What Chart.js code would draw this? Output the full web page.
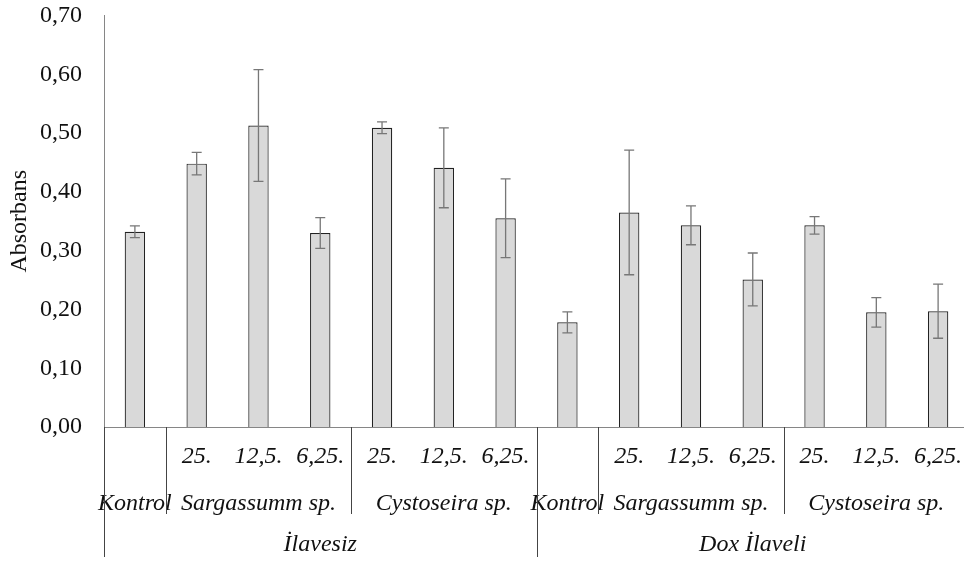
<!DOCTYPE html>
<html lang="tr">
<head>
<meta charset="utf-8">
<title>Absorbans</title>
<script src="https://cdn.jsdelivr.net/npm/chart.js@4/dist/chart.umd.min.js"></script>
<style>
    html, body { margin: 0; padding: 0; background: #ffffff; overflow: hidden; }
    #kutu { position: relative; width: 969px; height: 563px; }
</style>
</head>
<body>
<div id="kutu"><canvas id="grafik"></canvas></div>
<script>
// Veriler
const dozEtiketleri = ['', '25.', '12,5.', '6,25.', '25.', '12,5.', '6,25.',
                       '', '25.', '12,5.', '6,25.', '25.', '12,5.', '6,25.'];
const turAdlari = ['Kontrol', 'Sargassumm sp.', 'Cystoseira sp.', 'Kontrol', 'Sargassumm sp.', 'Cystoseira sp.'];
const turGenislik = [1, 3, 3, 1, 3, 3];
const grupAdlari = ['İlavesiz', 'Dox İlaveli'];
const grupGenislik = [7, 7];
const ortalama = [0.332, 0.448, 0.513, 0.330, 0.509, 0.441, 0.355,
                  0.178, 0.365, 0.343, 0.251, 0.343, 0.195, 0.197];
const hata = [0.010, 0.019, 0.095, 0.026, 0.010, 0.068, 0.067,
              0.018, 0.106, 0.033, 0.045, 0.015, 0.025, 0.046];
const yEtiketleri = [0, 0.1, 0.2, 0.3, 0.4, 0.5, 0.6, 0.7];

const yazi = "'Liberation Serif', 'Times New Roman', serif";

// Hata çubukları
const hataCubuklari = {
    id: 'hataCubuklari',
    afterDatasetsDraw(chart) {
        const ctx = chart.ctx;
        const x = chart.scales.x, y = chart.scales.y;
        ctx.save();
        ctx.strokeStyle = '#777777';
        ctx.lineWidth = 1.3;
        ortalama.forEach((v, i) => {
            const px = x.getPixelForValue(i);
            const ust = y.getPixelForValue(v + hata[i]);
            const alt = y.getPixelForValue(v - hata[i]);
            ctx.beginPath();
            ctx.moveTo(px, ust); ctx.lineTo(px, alt);
            ctx.moveTo(px - 5, ust); ctx.lineTo(px + 5, ust);
            ctx.moveTo(px - 5, alt); ctx.lineTo(px + 5, alt);
            ctx.stroke();
        });
        ctx.restore();
    }
};

// Çok seviyeli kategori ekseni
const cokSeviyeliEksen = {
    id: 'cokSeviyeliEksen',
    afterDraw(chart) {
        const ctx = chart.ctx;
        const x = chart.scales.x;
        const alt = chart.chartArea.bottom;
        const adim = x.getPixelForValue(1) - x.getPixelForValue(0);
        const sinir = i => x.getPixelForValue(0) - adim / 2 + adim * i;

        ctx.save();
        ctx.fillStyle = '#111111';
        ctx.font = 'italic 24px ' + yazi;
        ctx.textAlign = 'center';
        ctx.textBaseline = 'alphabetic';

        dozEtiketleri.forEach((t, i) => {
            if (t) ctx.fillText(t, x.getPixelForValue(i), 463);
        });

        let bas = 0;
        turAdlari.forEach((t, k) => {
            const orta = bas + Math.floor((turGenislik[k] - 1) / 2);
            ctx.fillText(t, x.getPixelForValue(orta), 510);
            bas += turGenislik[k];
        });

        bas = 0;
        grupAdlari.forEach((t, k) => {
            const orta = bas + Math.floor((grupGenislik[k] - 1) / 2);
            ctx.fillText(t, x.getPixelForValue(orta), 551);
            bas += grupGenislik[k];
        });

        // ayırıcı çizgiler
        ctx.strokeStyle = '#444444';
        ctx.lineWidth = 1;
        ctx.beginPath();
        bas = 0;
        turGenislik.forEach(g => {
            const px = Math.round(sinir(bas)) + 0.5;
            ctx.moveTo(px, alt); ctx.lineTo(px, 514);
            bas += g;
        });
        bas = 0;
        grupGenislik.forEach(g => {
            const px = Math.round(sinir(bas)) + 0.5;
            ctx.moveTo(px, alt); ctx.lineTo(px, 557);
            bas += g;
        });
        ctx.stroke();
        ctx.restore();
    }
};

new Chart(document.getElementById('grafik'), {
    type: 'bar',
    data: {
        labels: dozEtiketleri,
        datasets: [{
            data: ortalama,
            backgroundColor: '#d9d9d9',
            borderColor: '#222222',
            borderWidth: 1.2,
            categoryPercentage: 1,
            barPercentage: 0.33
        }]
    },
    options: {
        responsive: true,
        maintainAspectRatio: false,
        animation: false,
        layout: { padding: { top: 15.5, right: 0, left: 0, bottom: 0 } },
        plugins: {
            legend: { display: false },
            tooltip: { enabled: false }
        },
        scales: {
            x: {
                grid: { display: false, drawTicks: false },
                border: { display: true, color: '#868686', width: 1 },
                ticks: { display: false },
                afterFit: s => { s.height = 136; s.paddingLeft = 0; s.paddingRight = 0; }
            },
            y: {
                min: 0,
                max: 0.7,
                afterBuildTicks: s => { s.ticks = yEtiketleri.map(v => ({ value: v })); },
                afterFit: s => { s.width = 104; s.paddingTop = 0; s.paddingBottom = 0; },
                grid: { display: false, drawTicks: false },
                border: { display: true, color: '#868686', width: 1 },
                ticks: {
                    padding: 22,
                    color: '#111111',
                    font: { family: yazi, size: 24 },
                    callback: v => v.toFixed(2).replace('.', ',')
                },
                title: {
                    display: true,
                    text: 'Absorbans',
                    color: '#111111',
                    font: { family: yazi, size: 24 },
                    padding: { top: 5, bottom: 0 }
                }
            }
        }
    },
    plugins: [hataCubuklari, cokSeviyeliEksen]
});
</script>
</body>
</html>
